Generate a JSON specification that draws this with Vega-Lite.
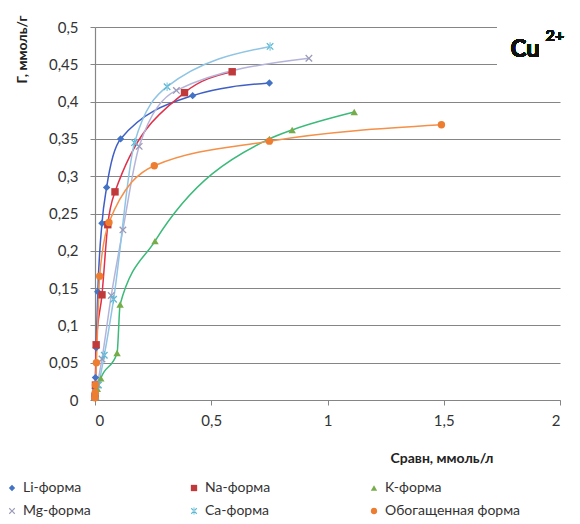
{
  "$schema": "https://vega.github.io/schema/vega-lite/v6.json",
  "autosize": "none",
  "width": 465,
  "height": 373,
  "padding": {"left": 95, "top": 27, "right": 20, "bottom": 124},
  "background": "white",
  "config": {
    "view": {"stroke": null},
    "font": "Lato",
    "axis": {
      "labelFont": "Lato", "labelFontSize": 15, "labelColor": "#333333",
      "domainColor": "#858585", "tickColor": "#858585", "gridColor": "#858585",
      "gridOpacity": 1, "gridWidth": 1.2, "domainWidth": 1.2, "tickSize": 5, "labelOverlap": false,
      "titleFont": "Lato", "titleFontWeight": "bold", "titleFontSize": 14, "titleColor": "#222222"
    },
    "legend": {"labelFont": "Lato", "labelFontSize": 14, "labelColor": "#333333"}
  },
  "data": {"values": [
    {"series": "Li-форма", "x": 0.0, "y": 0.005},
    {"series": "Li-форма", "x": 0.001, "y": 0.015},
    {"series": "Li-форма", "x": 0.002, "y": 0.03},
    {"series": "Li-форма", "x": 0.005, "y": 0.07},
    {"series": "Li-форма", "x": 0.012, "y": 0.145},
    {"series": "Li-форма", "x": 0.03, "y": 0.237},
    {"series": "Li-форма", "x": 0.05, "y": 0.285},
    {"series": "Li-форма", "x": 0.11, "y": 0.35},
    {"series": "Li-форма", "x": 0.42, "y": 0.408},
    {"series": "Li-форма", "x": 0.75, "y": 0.425},
    {"series": "Na-форма", "x": 0.0, "y": 0.005},
    {"series": "Na-форма", "x": 0.002, "y": 0.02},
    {"series": "Na-форма", "x": 0.005, "y": 0.074},
    {"series": "Na-форма", "x": 0.03, "y": 0.141},
    {"series": "Na-форма", "x": 0.055, "y": 0.235},
    {"series": "Na-форма", "x": 0.086, "y": 0.279},
    {"series": "Na-форма", "x": 0.385, "y": 0.412},
    {"series": "Na-форма", "x": 0.59, "y": 0.44},
    {"series": "K-форма", "x": 0.003, "y": 0.005},
    {"series": "K-форма", "x": 0.01, "y": 0.015},
    {"series": "K-форма", "x": 0.025, "y": 0.029},
    {"series": "K-форма", "x": 0.095, "y": 0.063},
    {"series": "K-форма", "x": 0.108, "y": 0.128},
    {"series": "K-форма", "x": 0.258, "y": 0.213},
    {"series": "K-форма", "x": 0.75, "y": 0.35},
    {"series": "K-форма", "x": 0.848, "y": 0.362},
    {"series": "K-форма", "x": 1.115, "y": 0.386},
    {"series": "Mg-форма", "x": 0.002, "y": 0.005},
    {"series": "Mg-форма", "x": 0.01, "y": 0.02},
    {"series": "Mg-форма", "x": 0.03, "y": 0.055},
    {"series": "Mg-форма", "x": 0.07, "y": 0.14},
    {"series": "Mg-форма", "x": 0.12, "y": 0.228},
    {"series": "Mg-форма", "x": 0.19, "y": 0.34},
    {"series": "Mg-форма", "x": 0.35, "y": 0.415},
    {"series": "Mg-форма", "x": 0.92, "y": 0.458},
    {"series": "Ca-форма", "x": 0.003, "y": 0.005},
    {"series": "Ca-форма", "x": 0.015, "y": 0.02},
    {"series": "Ca-форма", "x": 0.04, "y": 0.06},
    {"series": "Ca-форма", "x": 0.08, "y": 0.135},
    {"series": "Ca-форма", "x": 0.17, "y": 0.345},
    {"series": "Ca-форма", "x": 0.31, "y": 0.42},
    {"series": "Ca-форма", "x": 0.753, "y": 0.474},
    {"series": "Обогащенная форма", "x": 0.0, "y": 0.003},
    {"series": "Обогащенная форма", "x": 0.001, "y": 0.01},
    {"series": "Обогащенная форма", "x": 0.002, "y": 0.02},
    {"series": "Обогащенная форма", "x": 0.006, "y": 0.05},
    {"series": "Обогащенная форма", "x": 0.02, "y": 0.166},
    {"series": "Обогащенная форма", "x": 0.06, "y": 0.238},
    {"series": "Обогащенная форма", "x": 0.255, "y": 0.314},
    {"series": "Обогащенная форма", "x": 0.75, "y": 0.347},
    {"series": "Обогащенная форма", "x": 1.49, "y": 0.369}
  ]},
  "encoding": {
    "x": {"field": "x", "type": "quantitative",
      "scale": {"domain": [0, 2], "nice": false},
      "axis": {"values": [0, 0.5, 1, 1.5, 2], "grid": false, "labelExpr": "replace(toString(datum.value), '.', ',')",
        "labelPadding": 8, "title": "Cравн, ммоль/л", "titleX": 398, "titleY": 58, "titleAlign": "right", "titleBaseline": "middle"}},
    "y": {"field": "y", "type": "quantitative",
      "scale": {"domain": [0, 0.5], "nice": false},
      "axis": {"values": [0, 0.05, 0.1, 0.15, 0.2, 0.25, 0.3, 0.35, 0.4, 0.45, 0.5], "grid": true, "labelOverlap": false,
        "labelExpr": "replace(toString(datum.value), '.', ',')", "labelPadding": 12,
        "title": "Г, ммоль/г", "titleX": -73, "titleY": -12, "titleAlign": "right", "titleBaseline": "middle"}}
  },
  "layer": [
    {
      "mark": {"type": "rect", "color": "white"},
      "encoding": {
        "x": {"datum": 1.73, "type": "quantitative"},
        "x2": {"datum": 2.01},
        "y": {"datum": 0.425, "type": "quantitative"},
        "y2": {"datum": 0.51}
      }
    },
    {
      "mark": {"type": "line", "interpolate": "monotone", "strokeWidth": 1.5},
      "encoding": {
        "stroke": {"field": "series", "type": "nominal", "legend": null,
          "scale": {"domain": ["Li-форма", "Na-форма", "K-форма", "Mg-форма", "Ca-форма", "Обогащенная форма"],
            "range": ["#3f5fc6", "#e0304a", "#3cba7a", "#b4b4da", "#8fc4e4", "#f59048"]}},
        "detail": {"field": "series"}
      }
    },
    {
      "mark": {"type": "point", "filled": true, "opacity": 1, "size": 55},
      "encoding": {
        "color": {"field": "series", "type": "nominal",
          "scale": {"domain": ["Li-форма", "Mg-форма", "Na-форма", "Ca-форма", "K-форма", "Обогащенная форма"],
            "range": ["#4472c4", "#9a9ab8", "#c0393b", "#5bb8d4", "#77ac4a", "#ed7d31"]},
          "legend": {"title": null, "orient": "none", "legendX": -90, "legendY": 454, "columns": 3,
            "columnPadding": 96, "rowPadding": 9, "symbolSize": 40, "labelOffset": 4}},
        "shape": {"field": "series", "type": "nominal",
          "scale": {"domain": ["Li-форма", "Mg-форма", "Na-форма", "Ca-форма", "K-форма", "Обогащенная форма"],
            "range": ["diamond",
              "M-1,-0.75L-0.75,-1L0,-0.25L0.75,-1L1,-0.75L0.25,0L1,0.75L0.75,1L0,0.25L-0.75,1L-1,0.75L-0.25,0Z",
              "square",
              "M-1,-0.75L-0.75,-1L0,-0.25L0.75,-1L1,-0.75L0.25,0L1,0.75L0.75,1L0,0.25L-0.75,1L-1,0.75L-0.25,0ZM-0.12,-1.15L-0.12,1.15L0.12,1.15L0.12,-1.15Z",
              "triangle-up",
              "circle"]},
          "legend": {"title": null, "orient": "none", "legendX": -90, "legendY": 454, "columns": 3,
            "columnPadding": 96, "rowPadding": 9, "symbolSize": 40, "labelOffset": 4}}
      }
    },
    {
      "mark": {"type": "text", "text": "Cu", "font": "Lato", "fontSize": 24, "fontWeight": "bold", "color": "#111111"},
      "encoding": {
        "x": {"datum": 1.85, "type": "quantitative"},
        "y": {"datum": 0.469, "type": "quantitative"}
      }
    },
    {
      "mark": {"type": "text", "text": "2+", "font": "Lato", "fontSize": 16, "fontWeight": "bold", "color": "#111111"},
      "encoding": {
        "x": {"datum": 1.978, "type": "quantitative"},
        "y": {"datum": 0.488, "type": "quantitative"}
      }
    }
  ]
}
